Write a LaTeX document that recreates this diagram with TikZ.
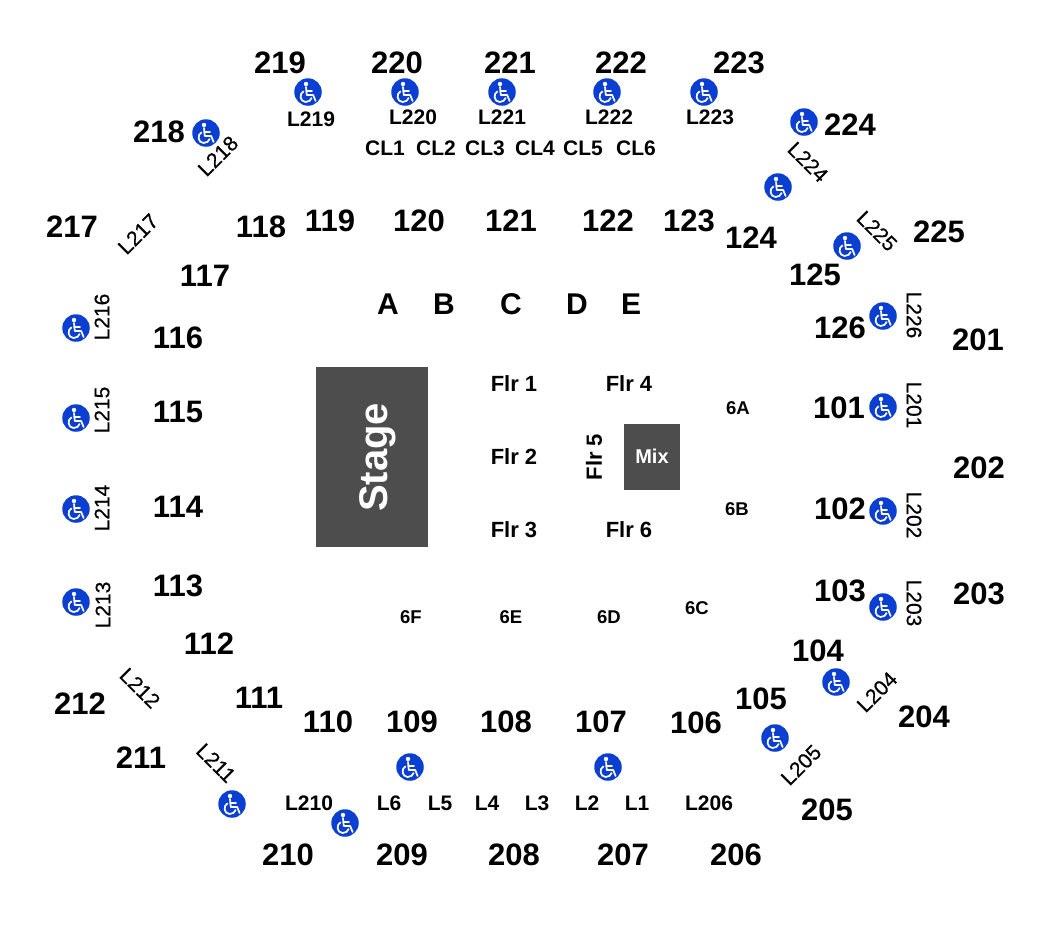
\documentclass[tikz,border=0pt]{standalone}
\usepackage{fontspec}
\setmainfont{Liberation Sans}
\newfontfamily\medfam[FakeBold=0.6]{Liberation Sans}
\definecolor{wcblue}{HTML}{0B3FD2}
\definecolor{blockgrey}{HTML}{4D4D4D}
\tikzset{
  x=1pt,y=-1pt,
  every node/.style={inner sep=0pt,outer sep=0pt,font=\bfseries,text=black},
  bignum/.style={font=\fontsize{31}{33}\selectfont\bfseries},
  letterlab/.style={font=\fontsize{30}{32}\selectfont\bfseries},
  loge/.style={font=\fontsize{21}{23}\selectfont\bfseries},
  logeturned/.style={font=\fontsize{21}{23}\selectfont\medfam},
  sixlab/.style={font=\fontsize{18.5}{20}\selectfont\bfseries},
  floorlab/.style={font=\fontsize{22}{24}\selectfont\bfseries},
  block/.style={fill=blockgrey,draw=none},
  wcdisc/.style={fill=wcblue,draw=none,circle,minimum size=27.5pt},
  wcline/.style={draw=white,line width=1.7pt,line cap=round,line join=round},
  wheelchair/.pic={
    \fill[white] (-2,-8) circle[radius=2.2];
    \draw[wcline] (-2,-5) -- (-1.2,3) -- (5.2,3) -- (7.6,9);
    \draw[wcline] (-1.8,-1) -- (4,-1);
    \draw[wcline] (-4.6,-0.6) .. controls (-9,1.6) and (-8.2,9.8) .. (-2.4,10)
                   .. controls (0.6,10.1) and (3,8.2) .. (3.6,6);
  }
}
\begin{document}
\begin{tikzpicture}
\useasboundingbox (0,0) rectangle (1050,930);
% big numbers
\foreach \t/\px/\py in {219/280/63,220/397/63,221/510/63,222/621/63,223/739/63,224/850/125,218/159/132,217/72/227,225/939/232,201/978/340,202/979/468,203/979/594,204/924/717,205/827/810,206/736/855,207/623/855,208/514/855,209/402/855,210/288/855,211/141/758,212/80/704,118/261/227,119/330/221,120/419/221,121/511/221,122/608/221,123/689/221,124/751/238,125/815/275,126/840/328,101/839/408,102/840/509,103/840/591,104/818/651,105/761/699,106/696/723,107/601/722,108/506/722,109/412/722,110/328/722,111/259/698,112/209/644,113/178/586,114/178/507,115/178/412,116/178/338,117/205/276}
  \node[bignum] (s\t) at (\px,\py) {\t};
% wheelchair discs
\foreach \px/\py [count=\i] in {308/92,405/92,502/92,607/92,704/92,804/122,778/187,847/246,883/316,883/407,883/511,883/607,836/682,775/738,608/767,410/767,345/823,232/804,76/328,76/418,76/509,76/602,206/133}{
  \node[wcdisc] (wc\i) at (\px,\py) {};
  \pic at (wc\i) {wheelchair};
}
% loge labels, level
\foreach \t/\px/\py in {L219/311/119,L220/413/117,L221/502/117,L222/609/117,L223/710/117,L210/309/803,L6/389/803,L5/440/803,L4/487/803,L3/537/803,L2/587/803,L1/637/803,L206/709/803,CL1/385/148,CL2/436/148,CL3/485/148,CL4/535/148,CL5/583/148,CL6/636/148}
  \node[loge] (n\t) at (\px,\py) {\t};
% loge labels, turned
\foreach \t/\px/\py/\r in {L218/218/156/45,L217/138/234/45,L216/102/317/90,L215/102/410/90,L214/102/508/90,L213/103/605/90,L212/140/688/-45,L211/216/763/-45,L205/801/765/45,L204/877/692/45,L203/914/603/-90,L202/914/515/-90,L201/914/405/-90,L226/914/315/-90,L225/877/231/-45,L224/808/162/-45}
  \node[logeturned,rotate=\r] (n\t) at (\px,\py) {\t};
% letters
\foreach \t/\px in {A/388,B/444,C/511,D/577,E/631}
  \node[letterlab] (col\t) at (\px,304.5) {\t};
% floor
\node[floorlab] (flr1) at (514,384) {Flr 1};
\node[floorlab] (flr2) at (514,457) {Flr 2};
\node[floorlab] (flr3) at (514,530) {Flr 3};
\node[floorlab] (flr4) at (629,384) {Flr 4};
\node[floorlab] (flr6) at (629,530) {Flr 6};
\node[floorlab,rotate=90] (flr5) at (594,457) {Flr 5};
% six
\foreach \t/\px/\py in {6A/738/408,6B/737/509,6C/697/608,6D/609/617,6E/511/617,6F/411/617}
  \node[sixlab] (n\t) at (\px,\py) {\t};
% blocks
\fill[block] (316,367) rectangle (428,547);
\node[rotate=90,text=white,font=\fontsize{40}{42}\selectfont\bfseries] (stage) at (378,457.5) {Stage};
\fill[block] (624,424) rectangle (680,490);
\node[text=white,font=\fontsize{20}{22}\selectfont\bfseries] (mix) at (652,456) {Mix};
\end{tikzpicture}
\end{document}
